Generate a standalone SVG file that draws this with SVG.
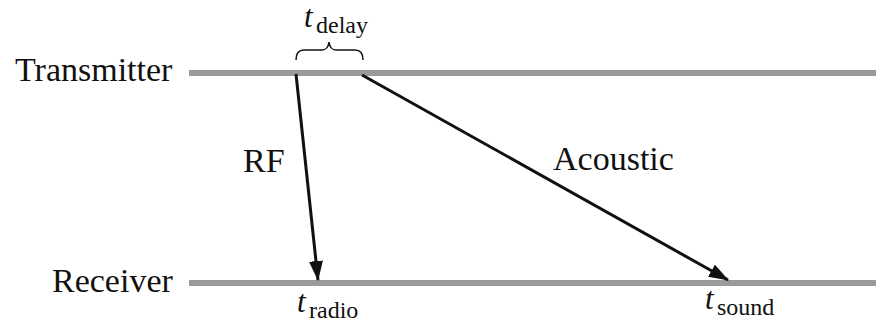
<svg xmlns="http://www.w3.org/2000/svg" width="876" height="322" viewBox="0 0 876 322">
<style>
.lbl{font-size:34px;fill:#111}
.t{font-style:italic;font-size:31px;fill:#111}
.sub{font-size:24px;fill:#111}
.line{stroke:#9a9a9a;stroke-width:6}
</style>
<defs>
<marker id="ah2" viewBox="0 0 20 14" refX="19" refY="7" markerWidth="20" markerHeight="14" markerUnits="userSpaceOnUse" orient="auto">
<path d="M0,0 L20,7 L0,14 z" fill="#111"/>
</marker>
</defs>
<rect width="876" height="322" fill="#fff"/>
<g id="transmitter">
<line class="line" x1="189" y1="73" x2="876" y2="73"/>
<text class="lbl" x="15" y="81" style="font-family:'Liberation Serif'">Transmitter</text>
</g>
<g id="receiver">
<line class="line" x1="189" y1="283" x2="876" y2="283"/>
<text class="lbl" x="52" y="292" style="font-family:'Liberation Serif'">Receiver</text>
</g>
<g id="connectors">
<line x1="296" y1="74" x2="318" y2="280" stroke="#111" stroke-width="3" marker-end="url(#ah2)"/>
<line x1="362" y1="75" x2="728" y2="280" stroke="#111" stroke-width="3" marker-end="url(#ah2)"/>
<text class="lbl" x="243" y="172" style="font-family:'Liberation Serif'">RF</text>
<text class="lbl" x="553" y="170" style="font-family:'Liberation Serif'">Acoustic</text>
</g>
<g id="delay">
<path d="M296,60 Q296,50 304,50 L322,50 Q328,50 329,42 Q330,50 336,50 L355,50 Q363,50 363,60" fill="none" stroke="#111" stroke-width="1.5"/>
<text class="t" x="304" y="27" style="font-family:'Liberation Serif'">t</text>
<text class="sub" x="316" y="33" style="font-family:'Liberation Serif'">delay</text>
</g>
<g id="tradio">
<text class="t" x="297" y="312" style="font-family:'Liberation Serif'">t</text>
<text class="sub" x="309" y="318" style="font-family:'Liberation Serif'">radio</text>
</g>
<g id="tsound">
<text class="t" x="705" y="309" style="font-family:'Liberation Serif'">t</text>
<text class="sub" x="717" y="315" style="font-family:'Liberation Serif'">sound</text>
</g>
</svg>
